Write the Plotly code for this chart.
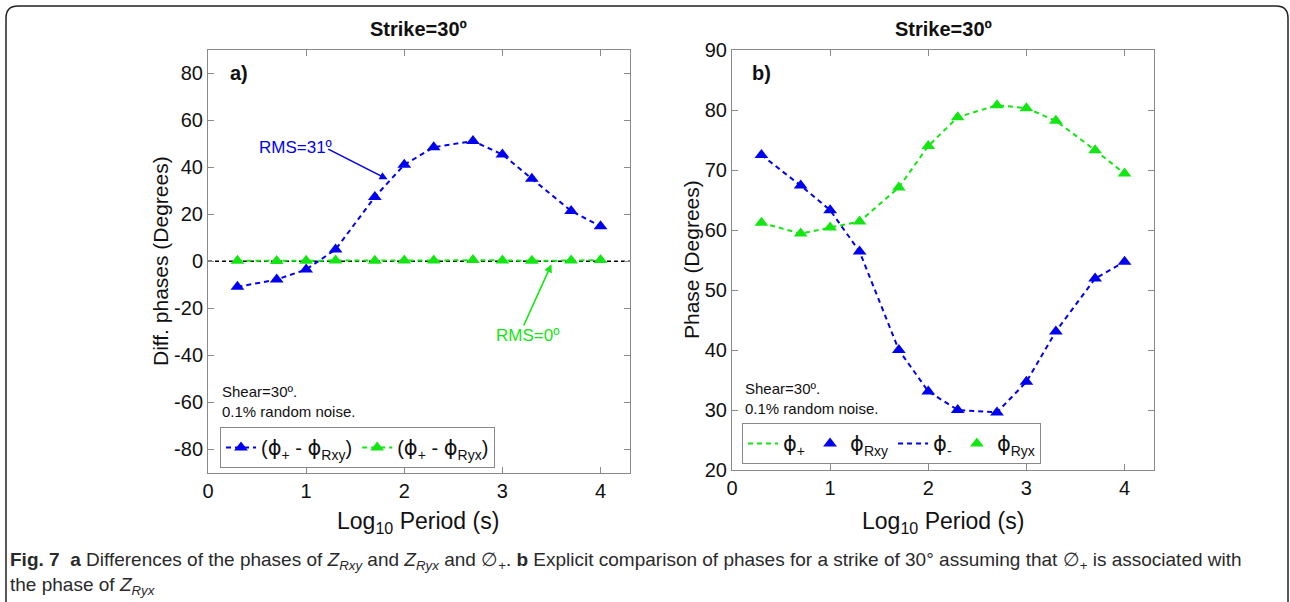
import plotly.graph_objects as go

W, H = 1290, 602

# ---------------- data ----------------
log_period = [0.3, 0.7, 1.0, 1.3, 1.7, 2.0, 2.3, 2.7, 3.0, 3.3, 3.7, 4.0]

# panel a: phase differences (degrees)
diff_plus_rxy = [-10.9, -7.8, -3.5, 5.0, 27.4, 41.1, 48.6, 51.2, 45.5, 35.2, 21.4, 14.9]
diff_plus_ryx = [0.2, 0.1, 0.2, 0.3, 0.2, 0.3, 0.3, 0.5, 0.3, 0.2, 0.3, 0.5]

# panel b: phases (degrees)
phi_plus = [61.2, 59.4, 60.4, 61.4, 67.1, 74.0, 78.8, 80.8, 80.3, 78.2, 73.3, 69.4]
phi_ryx = [61.2, 59.4, 60.4, 61.4, 67.1, 74.0, 78.8, 80.8, 80.3, 78.2, 73.3, 69.4]
phi_minus = [72.5, 67.4, 63.3, 56.4, 40.0, 33.1, 30.0, 29.6, 34.7, 43.1, 51.9, 54.7]
phi_rxy = [72.5, 67.4, 63.3, 56.4, 40.0, 33.1, 30.0, 29.6, 34.7, 43.1, 51.9, 54.7]

x_ticks = [0, 1, 2, 3, 4]
ya_ticks = [-80, -60, -40, -20, 0, 20, 40, 60, 80]
yb_ticks = [20, 30, 40, 50, 60, 70, 80, 90]

# ---------------- style ----------------
BLUE = "#0000f0"
GREEN = "#14e614"
FONT = "Liberation Sans, Arial, Helvetica, sans-serif"
AX = "#8a8a8a"
DASH = "5px,4px"
PHI = "<span style='font-family:DejaVu Sans;font-size:21px'>ϕ</span>"


def px(x):
    return x / W


def py(y):
    return 1 - y / H


fig = go.Figure()

# panel a traces
fig.add_trace(go.Scatter(
    x=log_period, y=diff_plus_rxy, mode="lines+markers", xaxis="x", yaxis="y",
    name=f"({PHI}<sub>+</sub> - {PHI}<sub>Rxy</sub>)", legend="legend",
    line=dict(color=BLUE, width=2, dash=DASH),
    marker=dict(symbol="triangle-up", size=12, color=BLUE)))
fig.add_trace(go.Scatter(
    x=log_period, y=diff_plus_ryx, mode="lines+markers", xaxis="x", yaxis="y",
    name=f"({PHI}<sub>+</sub> - {PHI}<sub>Ryx</sub>)", legend="legend",
    line=dict(color=GREEN, width=2, dash=DASH),
    marker=dict(symbol="triangle-up", size=12, color=GREEN)))

# panel b traces
fig.add_trace(go.Scatter(
    x=log_period, y=phi_plus, mode="lines", xaxis="x2", yaxis="y2",
    name=f"{PHI}<sub>+</sub>", legend="legend2", legendrank=1,
    line=dict(color=GREEN, width=2, dash=DASH)))
fig.add_trace(go.Scatter(
    x=log_period, y=phi_minus, mode="lines", xaxis="x2", yaxis="y2",
    name=f"{PHI}<sub>-</sub>", legend="legend2", legendrank=3,
    line=dict(color=BLUE, width=2, dash=DASH)))
fig.add_trace(go.Scatter(
    x=log_period, y=phi_rxy, mode="markers", xaxis="x2", yaxis="y2",
    name=f"{PHI}<sub>Rxy</sub>", legend="legend2", legendrank=2,
    marker=dict(symbol="triangle-up", size=12, color=BLUE)))
fig.add_trace(go.Scatter(
    x=log_period, y=phi_ryx, mode="markers", xaxis="x2", yaxis="y2",
    name=f"{PHI}<sub>Ryx</sub>", legend="legend2", legendrank=4,
    marker=dict(symbol="triangle-up", size=12, color=GREEN)))

axis_common = dict(showgrid=False, zeroline=False, showline=True, linecolor=AX,
                   linewidth=1, mirror="allticks", ticks="inside", ticklen=6,
                   tickcolor=AX, automargin=False,
                   tickfont=dict(size=20, color="#111", family=FONT))

fig.update_layout(
    width=W, height=H,
    margin=dict(l=0, r=0, t=0, b=0, pad=0, autoexpand=False),
    paper_bgcolor="white", plot_bgcolor="white",
    font=dict(family=FONT, color="#111"),
    xaxis=dict(domain=[px(208), px(630)], range=[0, 4.3], anchor="y",
               tickvals=x_ticks, ticktext=[str(v) for v in x_ticks], **axis_common),
    yaxis=dict(domain=[py(472.5), py(50)], range=[-90, 90], anchor="x",
               tickvals=ya_ticks, ticktext=[str(v) for v in ya_ticks], **axis_common),
    xaxis2=dict(domain=[px(732), px(1154)], range=[0, 4.3], anchor="y2",
                tickvals=x_ticks, ticktext=[str(v) for v in x_ticks], **axis_common),
    yaxis2=dict(domain=[py(470), py(50)], range=[20, 90], anchor="x2",
                tickvals=yb_ticks, ticktext=[str(v) for v in yb_ticks], **axis_common),
    legend=dict(x=px(220), y=py(427), xanchor="left", yanchor="top",
                orientation="h", bordercolor=AX, borderwidth=1, bgcolor="white",
                font=dict(size=20, family=FONT, color="#111"), itemwidth=30,
                tracegroupgap=0),
    legend2=dict(x=px(742), y=py(423), xanchor="left", yanchor="top",
                 orientation="h", bordercolor=AX, borderwidth=1, bgcolor="white",
                 font=dict(size=20, family=FONT, color="#111"), itemwidth=30,
                 tracegroupgap=0, traceorder="normal"),
    showlegend=True,
)

# zero reference line in panel a
fig.add_shape(type="line", xref="x domain", yref="y", x0=0, x1=1, y0=0, y1=0,
              line=dict(color="black", width=1.5, dash="4px,3px"), layer="below")

ann = []
C = dict(xanchor="center", yanchor="middle", showarrow=False)
# titles
for cx in (418, 943):
    ann.append(dict(text="<b>Strike=30º</b>", xref="paper", yref="paper",
                    x=px(cx), y=py(29), font=dict(size=20), **C))
# axis titles
ann.append(dict(text="Diff. phases (Degrees)", xref="paper", yref="paper",
                x=px(160), y=py(261), textangle=-90, font=dict(size=21), **C))
ann.append(dict(text="Phase (Degrees)", xref="paper", yref="paper",
                x=px(692), y=py(260), textangle=-90, font=dict(size=21), **C))
for cx in (418, 943):
    ann.append(dict(text="Log<sub>10</sub> Period (s)", xref="paper", yref="paper",
                    x=px(cx), y=py(522), font=dict(size=23), **C))
# panel labels
ann.append(dict(text="<b>a)</b>", xref="x", yref="y", x=0.2, y=80,
                xanchor="left", yanchor="middle", showarrow=False, font=dict(size=20)))
ann.append(dict(text="<b>b)</b>", xref="x2", yref="y2", x=0.18, y=86.2,
                xanchor="left", yanchor="middle", showarrow=False, font=dict(size=20)))
# notes
ann.append(dict(text="Shear=30º.<br>0.1% random noise.", xref="x", yref="y",
                x=0.12, y=-59.8, xanchor="left", yanchor="middle", align="left",
                showarrow=False, font=dict(size=15)))
ann.append(dict(text="Shear=30º.<br>0.1% random noise.", xref="x2", yref="y2",
                x=0.11, y=31.9, xanchor="left", yanchor="middle", align="left",
                showarrow=False, font=dict(size=15)))
# RMS labels + arrows
ann.append(dict(text="RMS=31º", xref="x", yref="y", x=0.89, y=48.5,
                font=dict(size=17, color=BLUE), **C))
ann.append(dict(text="", xref="x", yref="y", x=1.83, y=34.9, ax=1.21, ay=48.1,
                axref="x", ayref="y", showarrow=True, arrowhead=2, arrowsize=1,
                arrowwidth=1.6, arrowcolor=BLUE, standoff=0))
ann.append(dict(text="RMS=0º", xref="x", yref="y", x=3.26, y=-31.5,
                font=dict(size=17, color=GREEN), **C))
ann.append(dict(text="", xref="x", yref="y", x=3.50, y=-1.3, ax=3.21, ay=-28.0,
                axref="x", ayref="y", showarrow=True, arrowhead=2, arrowsize=1,
                arrowwidth=1.6, arrowcolor=GREEN, standoff=0))
# caption
CAP = "Liberation Sans Narrow, Arial Narrow, Liberation Sans, sans-serif"
ann.append(dict(
    text=("<b>Fig. 7</b>  <b>a</b> Differences of the phases of <i>Z<sub>Rxy</sub></i> and "
          "<i>Z<sub>Ryx</sub></i> and ∅<sub>+</sub>. <b>b</b> Explicit comparison of phases "
          "for a strike of 30° assuming that ∅<sub>+</sub> is associated with"),
    xref="paper", yref="paper", x=px(8), y=py(561), xanchor="left", yanchor="middle",
    showarrow=False, font=dict(size=19, family=CAP, color="#2a2a2a")))
ann.append(dict(
    text="the phase of <i>Z<sub>Ryx</sub></i>",
    xref="paper", yref="paper", x=px(8), y=py(586), xanchor="left", yanchor="middle",
    showarrow=False, font=dict(size=19, family=CAP, color="#2a2a2a")))
fig.update_layout(annotations=ann)

# rounded frame around figure + caption
x0, x1 = px(6), px(1288)
yt, yb = py(6), py(640)
rx, ry = 12 / W, 12 / H
path = (f"M {x0},{yb} L {x0},{yt - ry} Q {x0},{yt} {x0 + rx},{yt} "
        f"L {x1 - rx},{yt} Q {x1},{yt} {x1},{yt - ry} L {x1},{yb}")
fig.add_shape(type="path", xref="paper", yref="paper", path=path,
              line=dict(color="#222", width=1.5))

fig.write_html("out.html")
